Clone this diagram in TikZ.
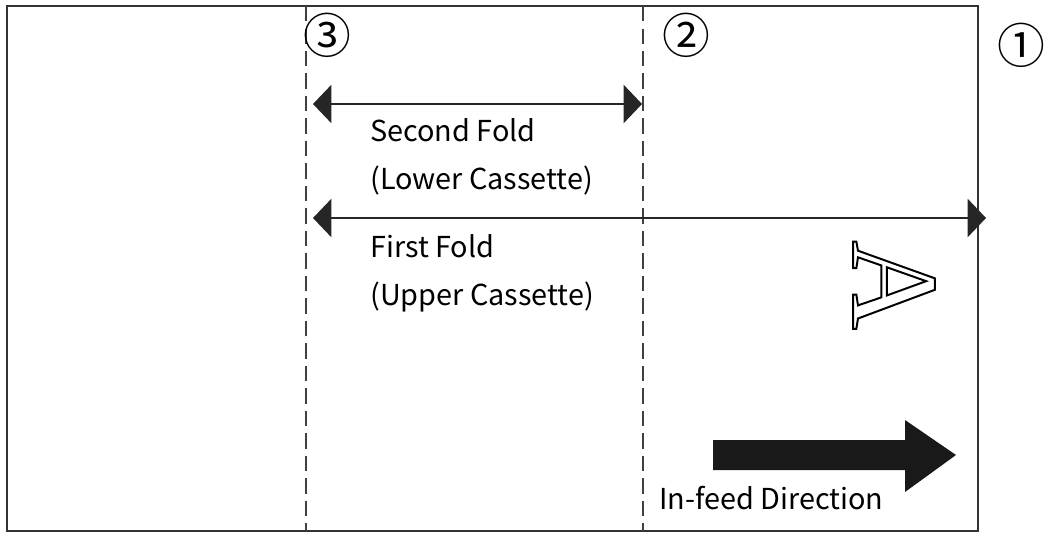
\documentclass[tikz,border=0pt]{standalone}
\usepackage{fontspec}
\setmainfont{Noto Sans CJK KR}
\newfontfamily\serifA{Liberation Serif}
\usepackage{tikz}
\usetikzlibrary{arrows.meta,positioning,calc}

\begin{document}
\begin{tikzpicture}[x=0.025cm, y=-0.025cm, font=\fontsize{20.5}{34}\selectfont,
    frame/.style={draw=black!80, line width=1.8pt},
    foldline/.style={draw=black!75, line width=1.6pt, dash pattern=on 11pt off 5pt},
    span/.style={draw=black!85, line width=1.5pt, {Triangle[length=13pt,width=27pt]}-{Triangle[length=13pt,width=27pt]}},
    numlabel/.style={font=\fontsize{34}{34}\selectfont, inner sep=0pt},
    label/.style={anchor=north west, inner sep=0pt, align=left}]
    \useasboundingbox (0,0) rectangle (1053,533);

    % Sheet outline
    \draw[frame] (7,6) rectangle (978,531);

    % Fold lines
    \coordinate (f3top) at (306,6);
    \coordinate (f3bot) at (306,531);
    \coordinate (f2top) at (643,6);
    \coordinate (f2bot) at (643,531);
    \draw[foldline] (f3top) -- (f3bot);
    \draw[foldline] (f2top) -- (f2bot);

    % Fold numbers
    \node[numlabel] (n3) at (327,35) {③};
    \node[numlabel] (n2) at (686,35) {②};
    \node[numlabel] (n1) at (1021,45) {①};

    % Fold spans
    \coordinate (s2l) at (313,104);
    \coordinate (s2r) at (642,104);
    \coordinate (s1l) at (313,218);
    \coordinate (s1r) at (986,218);
    \draw[span] (s2l) -- (s2r);
    \draw[span] (s1l) -- (s1r);
    \node[label] (second) at (370,118) {Second Fold\\(Lower Cassette)};
    \node[label] (first) at (370,234) {First Fold\\(Upper Cassette)};

    % Orientation mark
    \node[rotate=-90, inner sep=0pt] (mark) at (894,285)
        {\serifA\fontsize{88}{88}\selectfont\special{pdf:literal direct 1 Tr 1.4 w}A\special{pdf:literal direct 0 Tr}};

    % In-feed arrow
    \coordinate (feedtail) at (713,455);
    \coordinate (feedtip) at (956,455);
    \fill[black!90] (713,440) -- (905,440) -- (905,420) -- (feedtip) -- (905,492) -- (905,470) -- (713,470) -- cycle;
    \node[anchor=west, inner sep=0pt] (feed) at (659,498) {In-feed Direction};
\end{tikzpicture}
\end{document}
